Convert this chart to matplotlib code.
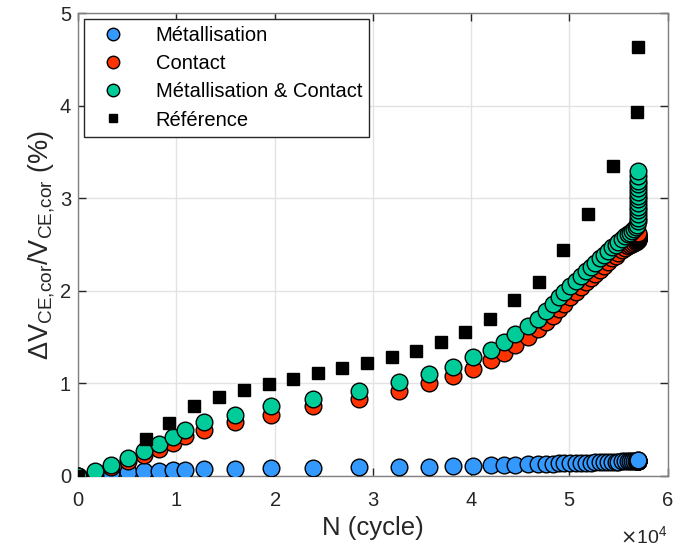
import numpy as np
import matplotlib
matplotlib.use("Agg")
import matplotlib.pyplot as plt
from matplotlib.transforms import ScaledTranslation

plt.rcParams['font.family'] = ['Liberation Sans', 'DejaVu Sans']
plt.rcParams['axes.unicode_minus'] = False

# N (cycles) commun aux trois séries simulées
N = [0, 1700, 3400, 5100, 6700, 8200, 9700, 10900, 12800, 16000, 19600,
     23900, 28600, 32700, 35700, 38200, 40200,
     42000, 43300, 44500, 45800, 46800, 47600, 48300, 48900, 49500, 50100,
     50700, 51200, 51700, 52200, 52600, 53100, 53500, 53900, 54300, 54700,
     55000, 55400, 55700, 56000,
     56200, 56400, 56600, 56800, 56900,
     57000, 57000, 57000, 57000, 57000, 57000, 57000,
     57000, 57000, 57000, 57000, 57000, 57000, 57000]

metal = [0, 0.02, 0.03, 0.04, 0.05, 0.05, 0.06, 0.06, 0.07, 0.075, 0.08,
         0.085, 0.09, 0.095, 0.10, 0.105, 0.11,
         0.115, 0.12, 0.12, 0.125, 0.13, 0.13, 0.13, 0.135, 0.135, 0.135,
         0.14, 0.14, 0.14, 0.14, 0.145, 0.145, 0.145, 0.15, 0.15, 0.15,
         0.15, 0.155, 0.155, 0.155,
         0.155, 0.155, 0.16, 0.16, 0.16,
         0.16, 0.16, 0.161, 0.161, 0.162, 0.162, 0.163,
         0.163, 0.164, 0.164, 0.165, 0.165, 0.166, 0.167]

contact = [0, 0.03, 0.10, 0.16, 0.22, 0.29, 0.35, 0.43, 0.50, 0.58, 0.66,
           0.75, 0.83, 0.92, 1.00, 1.08, 1.16,
           1.25, 1.33, 1.41, 1.50, 1.59, 1.66, 1.73, 1.80, 1.86, 1.93,
           1.99, 2.04, 2.09, 2.14, 2.18, 2.23, 2.27, 2.31, 2.35, 2.38,
           2.41, 2.44, 2.46, 2.48,
           2.50, 2.51, 2.52, 2.53, 2.54,
           2.545, 2.55, 2.555, 2.56, 2.565, 2.57, 2.575,
           2.58, 2.585, 2.59, 2.595, 2.60, 2.61, 2.62]

metal_contact = [0, 0.05, 0.12, 0.19, 0.27, 0.34, 0.42, 0.49, 0.58, 0.66, 0.75,
                 0.83, 0.92, 1.01, 1.10, 1.18, 1.28,
                 1.36, 1.45, 1.53, 1.62, 1.70, 1.78, 1.86, 1.93, 1.99, 2.05,
                 2.11, 2.16, 2.21, 2.26, 2.30, 2.35, 2.39, 2.43, 2.47, 2.50,
                 2.53, 2.56, 2.59, 2.61,
                 2.63, 2.65, 2.67, 2.69, 2.71,
                 2.75, 2.79, 2.83, 2.87, 2.91, 2.95, 2.99,
                 3.03, 3.07, 3.11, 3.15, 3.19, 3.24, 3.29]

# Référence (mesures)
N_ref = [0, 6900, 9300, 11800, 14300, 16900, 19400, 21900, 24400, 26900,
         29400, 31900, 34400, 36900, 39400, 41900, 44400, 46900, 49400,
         51900, 54400, 56900, 57000]
ref = [0, 0.40, 0.57, 0.76, 0.85, 0.93, 0.99, 1.05, 1.11, 1.17,
       1.22, 1.28, 1.35, 1.45, 1.56, 1.70, 1.90, 2.10, 2.44,
       2.83, 3.35, 3.93, 4.63]

fig = plt.figure(figsize=(6.73, 5.52), dpi=100)
ax = fig.add_axes([0.116, 0.138, 0.876, 0.838])

ms = 12
ax.plot(N, metal, 'o', ms=ms, mfc='#3399FF', mec='black', mew=1.0,
        label='Métallisation', zorder=3)
ax.plot(N, contact, 'o', ms=ms, mfc='#FF3300', mec='black', mew=1.0,
        label='Contact', zorder=3)
ax.plot(N, metal_contact, 'o', ms=ms, mfc='#00CC99', mec='black', mew=1.0,
        label='Métallisation & Contact', zorder=3)
ax.plot(N_ref, ref, 's', ms=8.5, mfc='black', mec='black',
        label='Référence', zorder=4)

ax.set_xlim(0, 60000)
ax.set_ylim(0, 5)
ax.set_xticks(np.arange(0, 60001, 10000))
ax.set_yticks(np.arange(0, 6, 1))
ax.ticklabel_format(axis='x', style='sci', scilimits=(0, 0), useMathText=True)
ot = ax.xaxis.get_offset_text()
ot.set_fontsize(14)
ot.set_color('#262626')
ot.set_transform(ot.get_transform() + ScaledTranslation(0, -8 / 72, fig.dpi_scale_trans))

ax.grid(True, color='#e3e3e3', linewidth=1.0, zorder=0)
ax.set_axisbelow(True)
for s in ax.spines.values():
    s.set_color('#808080')
    s.set_linewidth(1.0)
ax.tick_params(direction='in', length=6, width=1.0, colors='#262626',
               labelsize=14.5, top=True, right=True)
ax.tick_params(axis='x', pad=11)
ax.tick_params(axis='y', pad=5)

ax.set_xlabel('N (cycle)', fontsize=18.5, color='#262626', labelpad=4)
ax.set_ylabel(r'ΔV$_{\mathregular{CE{,}cor}}$/V$_{\mathregular{CE{,}cor}}$ (%)',
              fontsize=19.5, color='#262626', labelpad=2)

leg = ax.legend(loc='upper left', fontsize=14.5, frameon=True, fancybox=False,
                edgecolor='#262626', framealpha=1, borderpad=0.35,
                labelspacing=0.45, handletextpad=1.0, borderaxespad=0.3,
                markerscale=0.75, handlelength=2.2)
leg.get_frame().set_linewidth(1.0)

plt.savefig('out.png', dpi=100)
plt.close()
